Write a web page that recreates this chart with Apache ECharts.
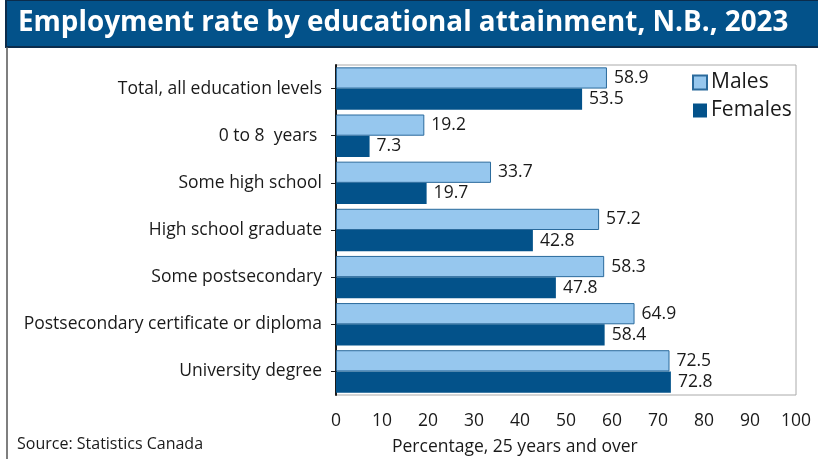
<!DOCTYPE html>
<html>
<head>
<meta charset="utf-8">
<script src="https://cdn.jsdelivr.net/npm/echarts@6/dist/echarts.min.js"></script>
<style>
  html, body { margin: 0; padding: 0; background: #fff; }
  #chart { width: 818px; height: 459px; }
</style>
</head>
<body>
<div id="chart"></div>
<script>
// Employment rate (%) by educational attainment, New Brunswick, 2023, population 25+
const categories = [
  'Total, all education levels',
  '0 to 8  years ',
  'Some high school',
  'High school graduate',
  'Some postsecondary',
  'Postsecondary certificate or diploma',
  'University degree'
];
const males = [58.9, 19.2, 33.7, 57.2, 58.3, 64.9, 72.5];
const females = [53.5, 7.3, 19.7, 42.8, 47.8, 58.4, 72.8];
const xTicks = [0, 100, 10]; // min, max, interval

const FONT = '"Open Sans", "Noto Sans", sans-serif';
const chart = echarts.init(document.getElementById('chart'), null, { renderer: 'canvas' });

const labelStyle = {
  show: true,
  position: 'right',
  distance: 7,
  color: '#1a1a1a',
  fontFamily: FONT,
  fontSize: 17.5,
  formatter: p => p.value.toFixed(1)
};

chart.setOption({
  animation: false,
  textStyle: { fontFamily: FONT },
  title: {
    text: 'Employment rate by educational attainment, N.B., 2023',
    left: 13,
    top: 4,
    textStyle: { color: '#ffffff', fontFamily: FONT, fontWeight: 'bold', fontSize: 27.8 }
  },
  graphic: [
    { type: 'rect', z: -1, shape: { x: 6, y: 0, width: 830, height: 47 },
      style: { fill: '#03528a', stroke: '#0b2c4c', lineWidth: 2 } },
    { type: 'line', shape: { x1: 7, y1: 47, x2: 7, y2: 460 },
      style: { stroke: '#555555', lineWidth: 1.5 } },
    { type: 'text', left: 17, top: 436,
      style: { text: 'Source: Statistics Canada', fill: '#1a1a1a', font: '16px ' + FONT } },
    { type: 'text', left: 392, top: 438,
      style: { text: 'Percentage, 25 years and over', fill: '#1a1a1a', font: '17.5px ' + FONT } }
  ],
  legend: {
    orient: 'vertical',
    left: 687,
    top: 67,
    icon: 'rect',
    itemWidth: 14,
    itemHeight: 14,
    itemGap: 7,
    textStyle: { color: '#1a1a1a', fontFamily: FONT, fontSize: 21, padding: [0, 0, 0, -1] },
    data: ['Males', 'Females']
  },
  grid: { left: 336, right: 22, top: 65, bottom: 64, show: true, borderColor: '#aaaaaa', borderWidth: 1 },
  xAxis: {
    type: 'value',
    min: xTicks[0],
    max: xTicks[1],
    interval: xTicks[2],
    axisLine: { show: false },
    axisTick: { show: false },
    splitLine: { show: false },
    axisLabel: { color: '#1a1a1a', fontFamily: FONT, fontSize: 17.5, margin: 17 }
  },
  yAxis: {
    type: 'category',
    inverse: true,
    data: categories,
    axisLine: { show: true, lineStyle: { color: '#1a1a1a', width: 2 } },
    axisTick: { show: true, alignWithLabel: true, length: 5, lineStyle: { color: '#1a1a1a' } },
    axisLabel: { color: '#1a1a1a', fontFamily: FONT, fontSize: 17.5, margin: 14 }
  },
  series: [
    {
      name: 'Males', type: 'bar', data: males,
      barGap: '0%', barCategoryGap: '10%',
      itemStyle: { color: '#96c7ee', borderColor: '#2a6a9c', borderWidth: 1 },
      label: labelStyle
    },
    {
      name: 'Females', type: 'bar', data: females,
      barGap: '0%', barCategoryGap: '10%',
      itemStyle: { color: '#03528a', borderColor: '#03528a', borderWidth: 0 },
      label: labelStyle
    }
  ]
});
</script>
</body>
</html>
